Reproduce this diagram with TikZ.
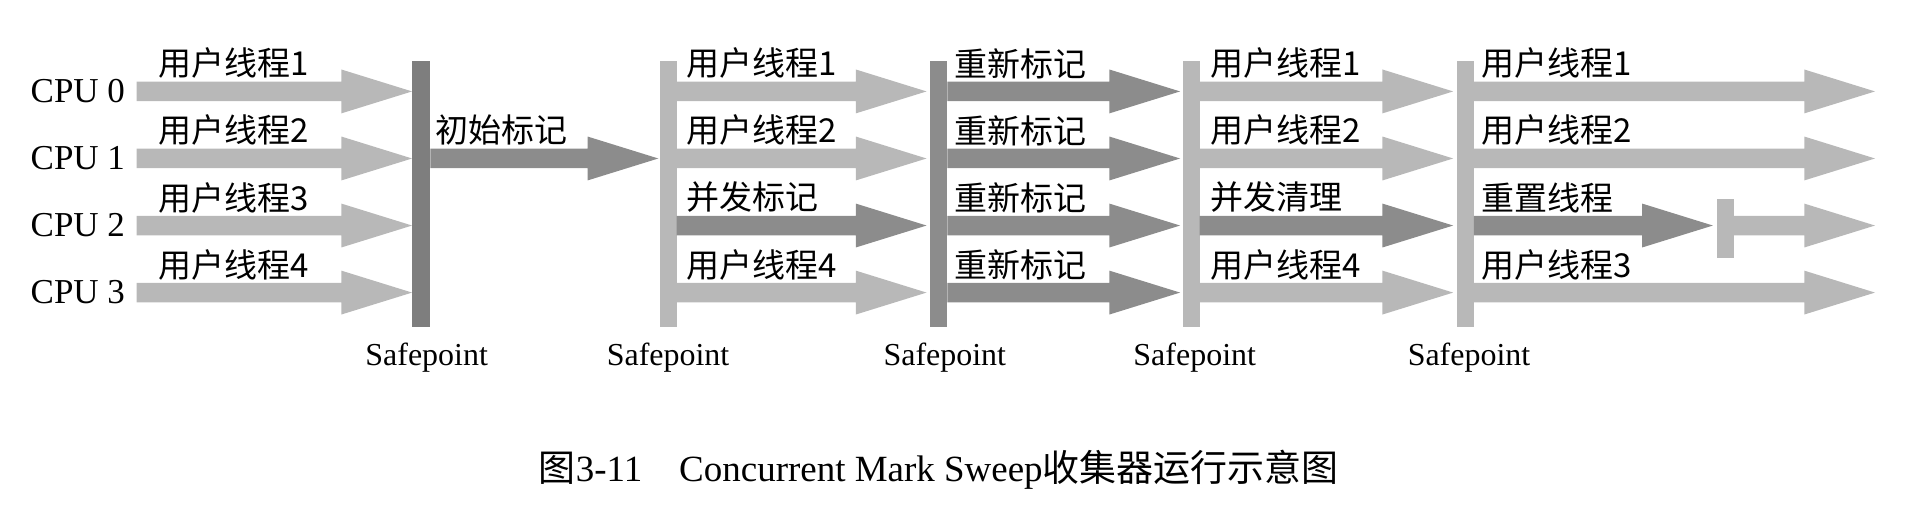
\documentclass[tikz,border=0pt]{standalone}
\usepackage{fontspec}
\setmainfont{Liberation Serif}
\newfontfamily\cjk{Noto Sans CJK SC}
\definecolor{lg}{RGB}{184,184,184}
\definecolor{dg}{RGB}{140,140,140}
\newcommand\harr[4]{\fill[#4] (#1,#3-8) -- (#2-58,#3-8) -- (#2-58,#3-18) -- (#2,#3) -- (#2-58,#3+18) -- (#2-58,#3+8) -- (#1,#3+8) -- cycle;}
\newcommand\lab[3]{\node[lbl] at (#1,#2-23) {#3};}
\begin{document}
\begin{tikzpicture}[x=1.22pt,y=-1.22pt,
  lbl/.style={anchor=west,inner sep=0pt,font=\fontsize{33}{34}\selectfont\cjk},
  cpu/.style={anchor=west,inner sep=0pt,font=\fontsize{35}{36}\selectfont},
  sp/.style={inner sep=0pt,font=\fontsize{32}{33}\selectfont}]
\useasboundingbox (0,0) rectangle (1570,423);
% stage 1
\foreach \y/\c in {75/0,130/1,185/2,240/3}{
  \node[cpu] at (25,\y) {CPU \c};
  \harr{112}{338}{\y}{lg}}
\lab{130}{75}{用户线程1}\lab{130}{130}{用户线程2}\lab{130}{185}{用户线程3}\lab{130}{240}{用户线程4}
\fill[dg!90!black] (338,50) rectangle (353,268);
\harr{353}{540}{130}{dg}
\lab{357}{130}{初始标记}
% stage 2
\fill[lg] (541,50) rectangle (555,268);
\harr{555}{760}{75}{lg}\harr{555}{760}{130}{lg}\harr{555}{760}{185}{dg}\harr{555}{760}{240}{lg}
\lab{563}{75}{用户线程1}\lab{563}{130}{用户线程2}\lab{563}{185}{并发标记}\lab{563}{240}{用户线程4}
% stage 3
\fill[dg] (763,50) rectangle (777,268);
\foreach \y in {75,130,185,240}{\harr{777}{968}{\y}{dg}\lab{783}{\y}{重新标记}}
% stage 4
\fill[lg] (970,50) rectangle (984,268);
\harr{984}{1192}{75}{lg}\harr{984}{1192}{130}{lg}\harr{984}{1192}{185}{dg}\harr{984}{1192}{240}{lg}
\lab{993}{75}{用户线程1}\lab{993}{130}{用户线程2}\lab{993}{185}{并发清理}\lab{993}{240}{用户线程4}
% stage 5
\fill[lg] (1195,50) rectangle (1209,268);
\harr{1209}{1538}{75}{lg}\harr{1209}{1538}{130}{lg}\harr{1209}{1405}{185}{dg}\harr{1422}{1538}{185}{lg}\harr{1209}{1538}{240}{lg}
\fill[lg] (1408,163) rectangle (1422,212);
\lab{1215}{75}{用户线程1}\lab{1215}{130}{用户线程2}\lab{1215}{185}{重置线程}\lab{1215}{240}{用户线程3}
% safepoints
\foreach \x in {350,548,775,980,1205}{\node[sp] at (\x,293) {Safepoint};}
\node[inner sep=0pt,font=\fontsize{37}{38}\selectfont] at (770,385) {{\cjk 图}3-11\hspace{1em}Concurrent Mark Sweep{\cjk 收集器运行示意图}};
\end{tikzpicture}
\end{document}
